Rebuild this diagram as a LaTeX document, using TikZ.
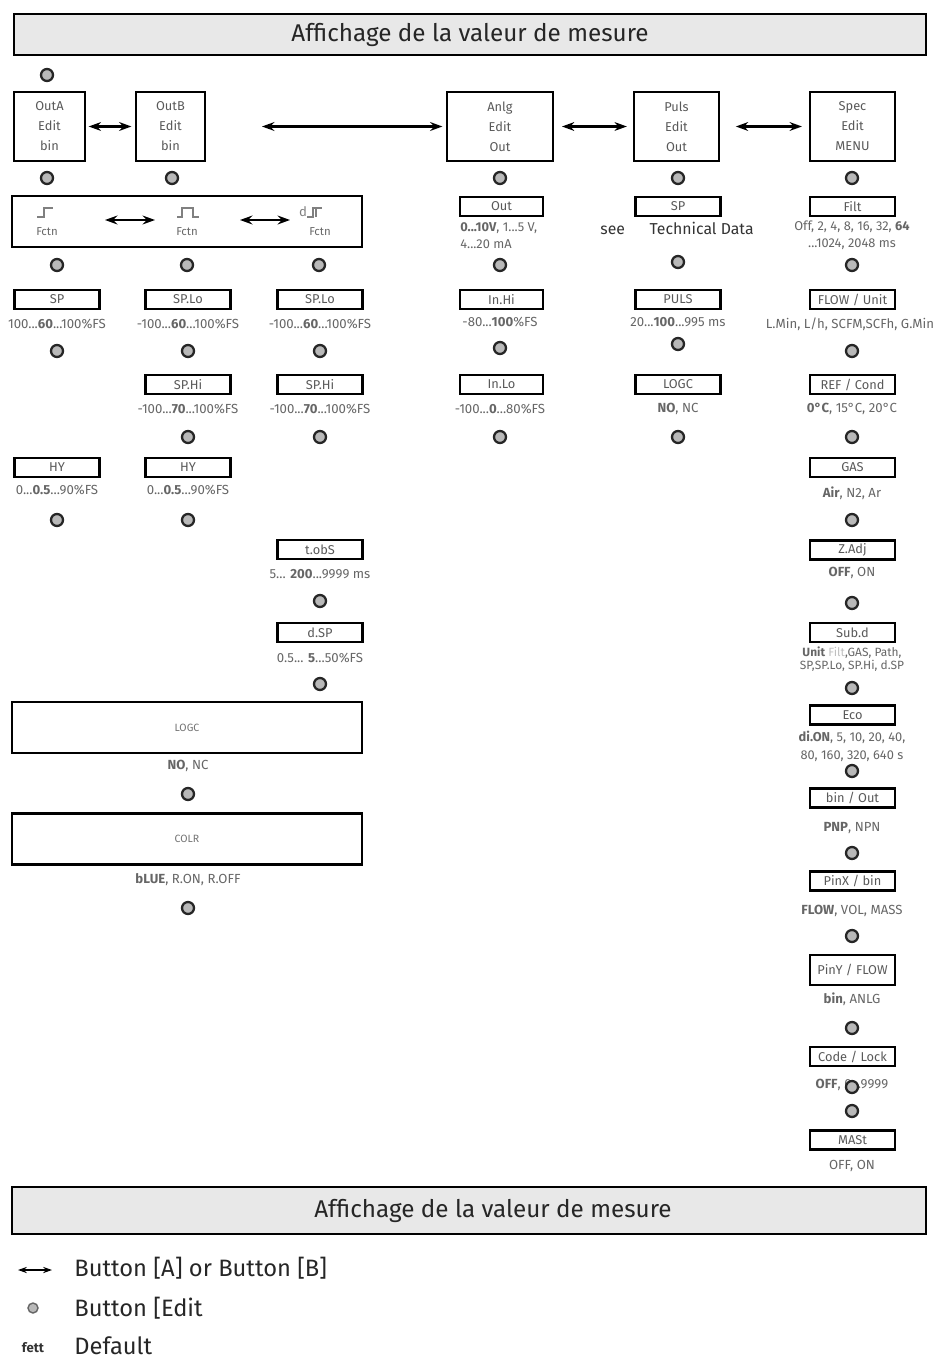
\documentclass[tikz,border=0pt]{standalone}
\usepackage{fontspec}
\setmainfont{Fira Sans}
\usetikzlibrary{arrows.meta, positioning, calc}
\tikzstyle{arrow} = [line width=1.2pt, {Stealth[length=7pt,width=5pt]}-{Stealth[length=7pt,width=5pt]}]

\begin{document}
\begin{tikzpicture}[x=0.02cm, y=-0.02cm,
	banner/.style={rectangle, draw=black, line width=1.2pt, fill=gray!18, minimum width=18.24cm, minimum height=0.82cm, font=\fontsize{13.8}{16}\selectfont, text=black!85},
	menu/.style={rectangle, draw=black, line width=1.2pt, minimum height=1.38cm, align=center, text=black!65, font=\fontsize{7.3}{11.4}\selectfont},
	param/.style={rectangle, draw=black, line width=1.2pt, minimum width=1.7cm, minimum height=0.38cm, inner sep=0pt, text=black!65, font=\fontsize{7.3}{8}\selectfont},
	wide/.style={rectangle, draw=black, line width=1.2pt, minimum width=7cm, minimum height=1.02cm, text=black!55, font=\fontsize{6}{8}\selectfont},
	val/.style={text=black!60, align=center, inner sep=0pt, font=\fontsize{7.5}{9.6}\selectfont},
	note/.style={text=black!80, inner sep=0pt, font=\fontsize{9}{11}\selectfont},
	legend/.style={anchor=west, inner sep=0pt, font=\fontsize{13.5}{16}\selectfont, text=black!85},
	btn/.style={circle, draw=black!85, line width=1.3pt, fill=gray!55, minimum size=0.24cm, inner sep=0pt},
	sym/.style={black!50, line width=0.6pt}
]
\useasboundingbox (0,0) rectangle (937,1362);

% Top banner
\node[banner] (top) at (470,34.5) {Affichage de la valeur de mesure};
\node[btn] (b0) at (47,75) {};

% Main menus
\node[menu, minimum width=1.42cm] (outA) at (49.5,126.5) {OutA\\Edit\\bin};
\node[menu, minimum width=1.38cm] (outB) at (170.5,126.5) {OutB\\Edit\\bin};
\node[menu, minimum width=2.12cm] (anlg) at (500,126.5) {Anlg\\Edit\\Out};
\node[menu, minimum width=1.7cm] (puls) at (676.5,126.5) {Puls\\Edit\\Out};
\node[menu, minimum width=1.7cm] (spec) at (852.5,126.5) {Spec\\Edit\\MENU};
\coordinate (gap) at (262,126.5);

% Button A/B arrows
\draw[arrow, shorten <=1.5pt, shorten >=2pt] (outA) -- (outB);
\draw[arrow, shorten >=2pt] (gap) -- (anlg);
\draw[arrow, shorten <=4.5pt, shorten >=3.5pt] (anlg) -- (puls);
\draw[arrow, shorten <=9pt, shorten >=4pt] (puls) -- (spec);

% Edit buttons below menus
\node[btn] (bA1) at (47,178) {};
\node[btn] (bB1) at (172,178) {};
\node[btn] (bN1) at (500,178) {};
\node[btn] (bP1) at (678,178) {};
\node[btn] (bS1) at (852,178) {};

% Switching function
\node[wide] (fctn) at (187,221.5) {};
\node[val, font=\fontsize{6.5}{8}\selectfont] (fA) at (47,232) {Fctn};
\node[val, font=\fontsize{6.5}{8}\selectfont] (fB) at (187,232) {Fctn};
\node[val, font=\fontsize{6.5}{8}\selectfont] (fC) at (320,232) {Fctn};
\draw[sym] (37,217) -- (44,217) -- (44,208) -- (53,208);
\draw[sym] (177,217) -- (182,217) -- (182,208) -- (193,208) -- (193,217) -- (199,217);
\node[val, text=black!50] (fCd) at (303,212) {d};
\draw[sym] (307,217) -- (313,217) -- (313,208) -- (322,208);
\draw[sym] (316,217) -- (316,209);
\draw[arrow, line width=1.6pt] ($(fA)+(58,-12)$) -- ($(fB)+(-32,-12)$);
\draw[arrow, line width=1.6pt] ($(fB)+(53,-12)$) -- ($(fC)+(-30,-12)$);

% Analogue output
\node[param, minimum width=1.66cm] (out) at (501.5,206.5) {Out};
\node[val, align=left, anchor=north west, font=\fontsize{7.3}{9.6}\selectfont] (outV) at (460,222) {\textbf{0...10V}, 1...5 V,\\4...20 mA};

% Pulse output
\node[param] (spP) at (678,206.5) {SP};
\node[note] (spV) at (677,228) {see\hspace{14pt}Technical Data};

% Special menu
\node[param] (filt) at (852.5,206.5) {Filt};
\node[val, font=\fontsize{7.3}{9.6}\selectfont] (filtV) at (852,235.5) {Off, 2, 4, 8, 16, 32, \textbf{64}\\...1024, 2048 ms};

\node[btn] (bA2) at (57,265) {};
\node[btn] (bB2) at (187,265) {};
\node[btn] (bC2) at (319,265) {};
\node[btn] (bN2) at (500,265) {};
\node[btn] (bP2) at (678,262) {};
\node[btn] (bS2) at (852,265) {};

% Switching points
\node[param] (spA) at (57,299.5) {SP};
\node[param] (spLoB) at (188,299.5) {SP.Lo};
\node[param] (spLoC) at (320,299.5) {SP.Lo};
\node[param, minimum width=1.66cm] (inHi) at (501.5,299.5) {In.Hi};
\node[param] (pulsP) at (678,299.5) {PULS};
\node[param] (flow) at (852.5,299.5) {FLOW / Unit};

\node[val] at (57,324) {100...\textbf{60}...100\%FS};
\node[val] at (188,324) {-100...\textbf{60}...100\%FS};
\node[val] at (320,324) {-100...\textbf{60}...100\%FS};
\node[val] at (500,322) {-80...\textbf{100}\%FS};
\node[val] at (678,322) {20...\textbf{100}...995 ms};
\node[val] at (850,324) {L.Min, L/h, SCFM,SCFh, G.Min};

\node[btn] (bA3) at (57,351) {};
\node[btn] (bB3) at (188,351) {};
\node[btn] (bC3) at (320,351) {};
\node[btn] (bN3) at (500,348) {};
\node[btn] (bP3) at (678,344) {};
\node[btn] (bS3) at (852,351) {};

\node[param] (spHiB) at (188,384.5) {SP.Hi};
\node[param] (spHiC) at (320,384.5) {SP.Hi};
\node[param, minimum width=1.66cm] (inLo) at (501.5,384.5) {In.Lo};
\node[param] (logcP) at (678,384.5) {LOGC};
\node[param] (ref) at (852.5,384.5) {REF / Cond};

\node[val] at (188,409) {-100...\textbf{70}...100\%FS};
\node[val] at (320,409) {-100...\textbf{70}...100\%FS};
\node[val] at (500,409) {-100...\textbf{0}...80\%FS};
\node[val] at (678,409) {\textbf{NO}, NC};
\node[val] at (852,409) {\textbf{0°C}, 15°C, 20°C};

\node[btn] (bB4) at (188,437) {};
\node[btn] (bC4) at (320,437) {};
\node[btn] (bN4) at (500,437) {};
\node[btn] (bP4) at (678,437) {};
\node[btn] (bS4) at (852,437) {};

% Hysteresis
\node[param] (hyA) at (57,467.5) {HY};
\node[param] (hyB) at (188,467.5) {HY};
\node[param] (gas) at (852.5,467.5) {GAS};
\node[val] at (57,490) {0...\textbf{0.5}...90\%FS};
\node[val] at (188,490) {0...\textbf{0.5}...90\%FS};
\node[val] at (852,493) {\textbf{Air}, N2, Ar};
\node[btn] (bA5) at (57,520) {};
\node[btn] (bB5) at (188,520) {};
\node[btn] (bS5) at (852,520) {};

% Diagnostics
\node[param] (tobs) at (320,549.5) {t.obS};
\node[val] at (320,574) {5... \textbf{200}...9999 ms};
\node[btn] (bC6) at (320,601) {};
\node[param] (dsp) at (320,632.5) {d.SP};
\node[val] at (320,658) {0.5... \textbf{5}...50\%FS};
\node[btn] (bC7) at (320,684) {};

% Special menu, continued
\node[param] (zadj) at (852.5,550) {Z.Adj};
\node[val] at (852,573) {\textbf{OFF}, ON};
\node[btn] (bS6) at (852,603) {};
\node[param] (subd) at (852.5,632.5) {Sub.d};
\node[val, font=\fontsize{6.8}{7.4}\selectfont] at (852,659.5) {\textbf{Unit} {\color{black!25}Filt},GAS, Path,\\SP,SP.Lo, SP.Hi, d.SP};
\node[btn] (bS7) at (852,688) {};
\node[param] (eco) at (852.5,715) {Eco};
\node[val, font=\fontsize{7.3}{10.2}\selectfont] at (852,746) {\textbf{di.ON}, 5, 10, 20, 40,\\80, 160, 320, 640 s};
\node[btn] (bS8) at (852,771) {};
\node[param] (binOut) at (852.5,798) {bin / Out};
\node[val] at (852,828) {\textbf{PNP}, NPN};
\node[btn] (bS9) at (852,853) {};
\node[param] (pinX) at (852.5,881) {PinX / bin};
\node[val] at (852,911) {\textbf{FLOW}, VOL, MASS};
\node[btn] (bS10) at (852,936) {};
\node[param, minimum height=0.6cm] (pinY) at (852.5,970) {PinY / FLOW};
\node[val] at (852,999) {\textbf{bin}, ANLG};
\node[btn] (bS11) at (852,1028) {};
\node[param] (code) at (852.5,1056.5) {Code / Lock};
\node[val] (codeV) at (852,1085) {\textbf{OFF}, 0...9999};
\node[btn] (bS12) at (852,1087) {};
\node[btn] (bS13) at (852,1111) {};
\node[param] (mast) at (852.5,1140) {MASt};
\node[val] at (852,1166) {OFF, ON};

% Logic and colour
\node[wide] (logc) at (187,727.5) {LOGC};
\node[val] at (188,766) {\textbf{NO}, NC};
\node[btn] (bB8) at (188,794) {};
\node[wide] (colr) at (187,839) {COLR};
\node[val] at (188,880) {\textbf{bLUE}, R.ON, R.OFF};
\node[btn] (bB9) at (188,908) {};

% Bottom banner
\node[banner, minimum width=18.28cm, minimum height=0.94cm] (bottom) at (469,1210.5) {\hspace*{0.96cm}Affichage de la valeur de mesure};

% Legend
\coordinate (lgA) at (18,1270);
\coordinate (lgB) at (52,1270);
\draw[line width=1.2pt, {Stealth[length=5pt,width=3.5pt]}-{Stealth[length=5pt,width=3.5pt]}] (lgA) -- (lgB);
\node[legend] (lg1) at (74,1268) {Button [A] or Button [B]};
\node[btn, line width=0.8pt, draw=black!60, minimum size=0.2cm] (lgBtn) at (33,1308) {};
\node[legend] (lg2) at (74,1308) {Button [Edit};
\node[inner sep=0pt, font=\bfseries\fontsize{7.5}{8}\selectfont, text=black!80] (lgFett) at (33,1348) {fett};
\node[legend] (lg3) at (74,1346) {Default};

\end{tikzpicture}
\end{document}
